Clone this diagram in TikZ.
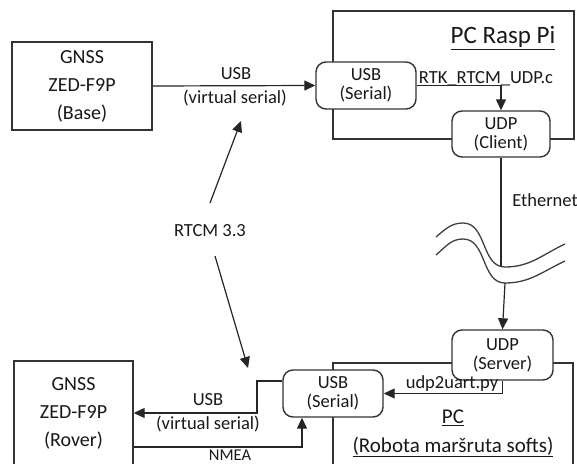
\documentclass[tikz,border=0pt]{standalone}
\usepackage{fontspec}
\setmainfont{Carlito}
\usetikzlibrary{arrows.meta}
\begin{document}
\begin{tikzpicture}[x=1bp,y=-1bp,
  every node/.style={font=\fontsize{18.5bp}{19bp}\selectfont, text=black!90, inner sep=0pt},
  sqbox/.style={draw=black!80, line width=1.4bp, fill=white, align=center,
     font=\fontsize{20bp}{28bp}\selectfont},
  rbox/.style={draw=black!80, line width=1.4bp, fill=white, rounded corners=10bp, align=center,
     font=\fontsize{18.5bp}{19bp}\selectfont},
  frame/.style={draw=black!80, line width=1.3bp},
  conn/.style={draw=black!85, line width=1.2bp},
  arr/.style={conn, -{Triangle[length=11bp,width=10bp]}},
  wave/.style={draw=black!75, line width=1.3bp}
]
\useasboundingbox (0,0) rectangle (577,464);
\fill[white] (0,0) rectangle (577,464);

% frames
\draw[frame] (333,11) rectangle (574,139);
\draw[frame] (333,475) -- (333,363) -- (573,363) -- (573,475);

% boxes
\node[sqbox, minimum width=140bp, minimum height=88bp] (base) at (82,86) {GNSS\\ZED-F9P\\(Base)};
\node[sqbox, minimum width=119bp, minimum height=104bp] (rover) at (73.5,413) {GNSS\\ZED-F9P\\(Rover)};
\node[rbox, minimum width=100bp, minimum height=47bp] (usbA) at (366,85.5) {USB\\(Serial)};
\node[rbox, minimum width=98bp, minimum height=46bp] (udpC) at (501,134) {UDP\\(Client)};
\node[rbox, minimum width=101bp, minimum height=50bp] (udpS) at (502.5,355) {UDP\\(Server)};
\node[rbox, minimum width=100bp, minimum height=47bp] (usbB) at (333,393.5) {USB\\(Serial)};

% titles
\node[font=\fontsize{25bp}{26bp}\selectfont] (tRasp) at (503,38) {\underline{PC Rasp Pi}};
\node[font=\fontsize{21bp}{22bp}\selectfont] (tPC) at (453,418) {\underline{PC}};
\node[font=\fontsize{21bp}{22bp}\selectfont] (tPC2) at (453,447) {\underline{(Robota maršruta softs)}};

% connectors top
\draw[arr] (base.east) -- (usbA.west);
\node (l1) at (236,74) {USB};
\node (l2) at (235,98) {(virtual serial)};
\draw[arr] (usbA.east) -- (usbA.east -| udpC.north) -- (udpC.north);
\node (l3) at (486,79) {RTK\_RTCM\_UDP.c};

% ethernet
\coordinate (w1) at (501,266);
\coordinate (w2) at (505,283);
\draw[conn] (udpC.south) -- (w1);
\node (l4) at (545,200) {Ethernet};
\draw[wave] (436,237) to[out=40,in=180] (463,223) to[out=0,in=180] (505,267) to[out=0,in=205] (565,244);
\draw[wave] (436,255) to[out=40,in=180] (463,239) to[out=0,in=180] (505,283) to[out=0,in=205] (565,261);
\draw[arr] (w2) -- (udpS.north);

% lower
\draw[arr] (udpS.south) |- (usbB.east);
\node (l5) at (452,384) {udp2uart.py};
\coordinate (bendB) at (257,381);
\coordinate (roverIn) at (134,413);
\draw[arr] (usbB.west |- bendB) -- (bendB) |- (rover.east |- roverIn);
\node (l6) at (208,400) {USB};
\node (l7) at (208,424) {(virtual serial)};
\coordinate (nm) at (302,447);
\draw[arr] (rover.east |- nm) -| (usbB.south -| nm);
\node[font=\fontsize{16.5bp}{17bp}\selectfont] (l8) at (230,455) {NMEA};

% RTCM
\node (rtcm) at (210,231) {RTCM 3.3};
\coordinate (r1) at (210,203);
\coordinate (r1t) at (241,121);
\coordinate (r2) at (215,256);
\coordinate (r2t) at (248,368);
\draw[arr] (r1) -- (r1t);
\draw[arr] (r2) -- (r2t);
\end{tikzpicture}
\end{document}
